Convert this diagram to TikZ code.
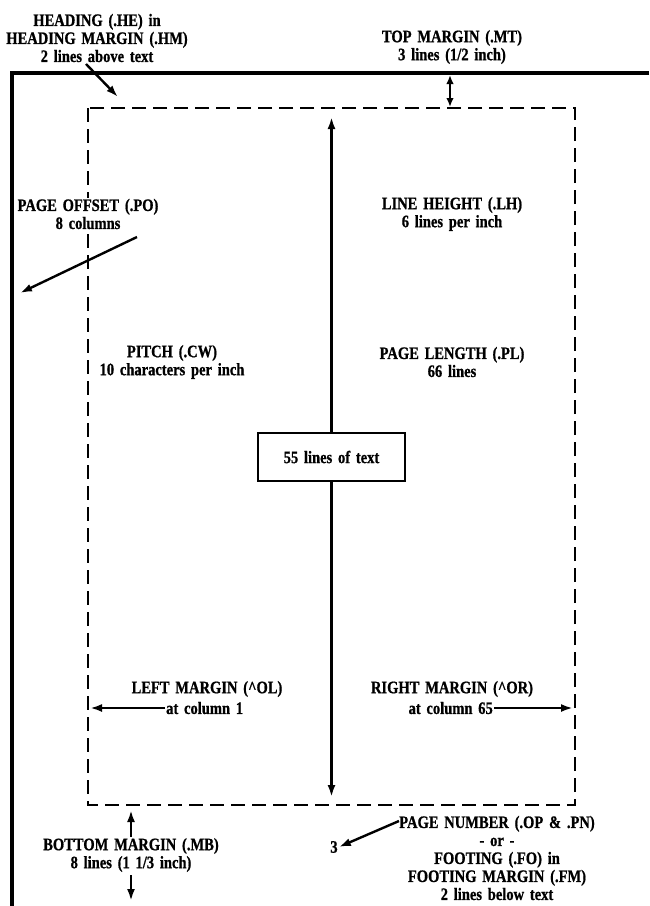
\documentclass[tikz,border=0pt]{standalone}
\usepackage{fontspec}
\setmainfont{Liberation Serif}[FakeStretch=0.83, BoldFeatures={FakeBold=0.8}]
\usetikzlibrary{arrows.meta}
\newcommand\mylblfont{\bfseries\fontsize{17.5}{18}\selectfont\spaceskip=0.33em plus 0.1em minus 0.05em\relax}
\tikzset{
  lbl/.style={font=\mylblfont, align=center, inner sep=1pt},
  wlbl/.style={lbl, fill=white},
  border/.style={line width=3.6pt},
  dashbox/.style={line width=2.8pt, dash pattern=on 14pt off 7pt},
  arr/.style={line width=2.4pt, -{Latex[length=12pt,width=8pt]}},
  darr/.style={line width=2.4pt, {Latex[length=9pt,width=7.5pt]}-{Latex[length=9pt,width=7.5pt]}},
}
\begin{document}
\begin{tikzpicture}[x=1pt,y=-1pt]
\useasboundingbox (0,0) rectangle (649,906);
% page border
\coordinate (ptr) at (649,73);
\coordinate (ptl) at (12,73);
\coordinate (pbl) at (12,906);
\draw[border] (ptr) -- (ptl) -- (pbl);
% dashed text area
\coordinate (dtl) at (88,108);
\coordinate (dbr) at (575,805);
\draw[dashbox] (dtl) rectangle (dbr);
% labels
\node[lbl] (he) at (97,38) {HEADING (.HE) in\\HEADING MARGIN (.HM)\\2 lines above text};
\node[lbl] (mt) at (452,47) {TOP MARGIN (.MT)\\3 lines (1/2 inch)};
\node[wlbl] (po) at (88,214) {PAGE OFFSET (.PO)\\8 columns};
\node[lbl] (lh) at (452,214) {LINE HEIGHT (.LH)\\6 lines per inch};
\node[lbl] (cw) at (172,362) {PITCH (.CW)\\10 characters per inch};
\node[lbl] (pl) at (452,362) {PAGE LENGTH (.PL)\\66 lines};
\node[lbl, draw, line width=2.4pt, minimum width=147pt, minimum height=48pt] (box) at (331.5,457) {55 lines of text};
\node[lbl] (lm) at (207,689) {LEFT MARGIN (\textasciicircum OL)};
\node[lbl, anchor=west] (lm2) at (165,708) {at column 1};
\node[lbl] (rm) at (452,689) {RIGHT MARGIN (\textasciicircum OR)};
\node[lbl, anchor=east] (rm2) at (494,708) {at column 65};
\node[lbl] (mb) at (131,855) {BOTTOM MARGIN (.MB)\\8 lines (1 1/3 inch)};
\node[lbl] (pn) at (497,858) {PAGE NUMBER (.OP \& .PN)\\- or -\\FOOTING (.FO) in\\FOOTING MARGIN (.FM)\\2 lines below text};
\node[lbl] (three) at (334,847) {3};
% coordinates for arrow ends
\coordinate (heS) at (86,64);
\coordinate (heE) at (118,97);
\coordinate (mtA) at (450,75);
\coordinate (mtB) at (450,107);
\coordinate (poS) at (137,237);
\coordinate (poE) at (20,293);
\coordinate (plT) at (331.5,117);
\coordinate (plB) at (331.5,797);
\coordinate (lmE) at (90,708);
\coordinate (rmE) at (573,708);
\coordinate (mbU) at (131,810);
\coordinate (mbUs) at (131,837);
\coordinate (mbDs) at (131,875);
\coordinate (mbD) at (131,901);
\coordinate (pnS) at (399,821);
% arrows
\draw[arr] (heS) -- (heE);
\draw[darr] (mtA) -- (mtB);
\draw[arr] (poS) -- (poE);
\draw[arr] (box.north) -- (plT);
\draw[arr] (box.south) -- (plB);
\draw[arr] (lm2.west) -- (lmE);
\draw[arr] (rm2.east) -- (rmE);
\draw[arr] (mbUs) -- (mbU);
\draw[arr] (mbDs) -- (mbD);
\draw[arr] (pnS) -- (three.east);
\end{tikzpicture}
\end{document}
